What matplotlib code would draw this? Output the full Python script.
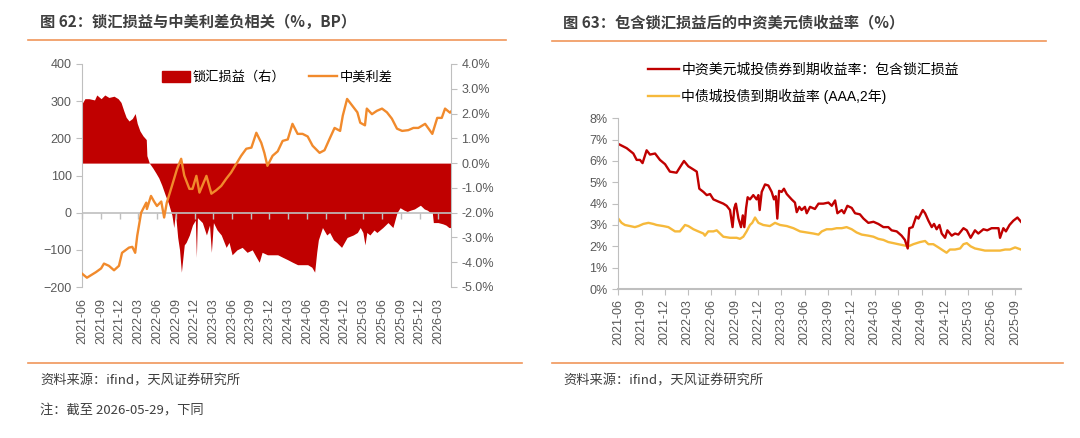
import pandas as pd
import matplotlib
matplotlib.use("Agg")
import matplotlib.pyplot as plt
from matplotlib.patches import Patch
from matplotlib.lines import Line2D
from matplotlib.ticker import FuncFormatter

# ============================================================
# DATA
# ============================================================

# Fig 62: 中美利差 (BP, left axis)
spread_dates = [
    "2021-06-01", "2021-06-25", "2021-08-08", "2021-09-02", "2021-09-16", "2021-10-10", "2021-11-04", "2021-11-28", "2021-12-13", "2022-01-16",
    "2022-02-01", "2022-02-15", "2022-02-25", "2022-03-16", "2022-04-10", "2022-04-13", "2022-05-03", "2022-05-18", "2022-06-01", "2022-06-22",
    "2022-07-06", "2022-07-19", "2022-08-13", "2022-09-07", "2022-09-27", "2022-10-12", "2022-11-06", "2022-11-21", "2022-12-10", "2022-12-25",
    "2023-01-28", "2023-02-21", "2023-03-16", "2023-04-10", "2023-05-04", "2023-05-28", "2023-06-22", "2023-07-16", "2023-08-10", "2023-09-04",
    "2023-09-28", "2023-10-22", "2023-11-06", "2023-11-21", "2023-12-16", "2024-01-10", "2024-02-03", "2024-02-28", "2024-03-22", "2024-04-16",
    "2024-05-10", "2024-06-04", "2024-06-28", "2024-08-01", "2024-08-25", "2024-09-19", "2024-10-13", "2024-11-09", "2024-11-22", "2024-12-13",
    "2025-01-07", "2025-02-01", "2025-02-15", "2025-03-10", "2025-03-19", "2025-04-13", "2025-05-07", "2025-06-01", "2025-06-25", "2025-07-19",
    "2025-08-13", "2025-09-07", "2025-10-07", "2025-11-01", "2025-11-25", "2025-12-28", "2026-02-01", "2026-02-25", "2026-03-19", "2026-04-04",
    "2026-04-28", "2026-05-03",
]
spread_vals = [
    -164, -175, -160, -150, -137, -143, -155, -143, -108, -94,
    -92, -108, -62, 0, 27, 10, 45, 30, 18, 30,
    -13, 27, 72, 118, 145, 100, 64, 64, 99, 54,
    99, 51, 60, 72, 91, 108, 131, 153, 172, 175,
    215, 188, 161, 126, 153, 165, 193, 197, 239, 212,
    212, 205, 180, 161, 168, 199, 228, 220, 261, 306,
    288, 270, 242, 235, 280, 265, 274, 280, 270, 253,
    226, 220, 222, 228, 228, 239, 212, 255, 255, 280,
    269, 272,
]

# Fig 62: 锁汇损益 (%, right axis)
lock_dates = [
    "2021-06-01", "2021-06-15", "2021-07-05", "2021-08-01", "2021-08-12", "2021-09-02", "2021-09-20", "2021-10-10", "2021-11-04", "2021-11-24",
    "2021-12-08", "2021-12-22", "2022-01-02", "2022-01-16", "2022-02-01", "2022-02-15", "2022-02-25", "2022-03-10", "2022-03-25", "2022-04-10",
    "2022-04-13", "2022-04-25", "2022-05-12", "2022-05-27", "2022-06-10", "2022-06-25", "2022-07-12", "2022-07-26", "2022-08-13", "2022-08-22",
    "2022-08-30", "2022-09-10", "2022-09-19", "2022-09-28", "2022-10-12", "2022-10-21", "2022-11-06", "2022-11-21", "2022-12-05", "2022-12-10",
    "2022-12-15", "2023-01-08", "2023-01-28", "2023-02-12", "2023-02-21", "2023-03-03", "2023-03-21", "2023-04-10", "2023-05-04", "2023-05-18",
    "2023-06-02", "2023-06-26", "2023-07-21", "2023-08-14", "2023-09-08", "2023-09-28", "2023-10-12", "2023-10-26", "2023-11-21", "2023-12-16",
    "2024-01-10", "2024-02-03", "2024-02-28", "2024-03-22", "2024-04-16", "2024-05-10", "2024-06-04", "2024-06-24", "2024-07-08", "2024-07-18",
    "2024-07-26", "2024-08-15", "2024-09-05", "2024-09-19", "2024-10-08", "2024-10-23", "2024-11-16", "2024-12-13", "2025-01-12", "2025-02-01",
    "2025-02-15", "2025-02-28", "2025-03-10", "2025-03-19", "2025-04-03", "2025-04-23", "2025-05-07", "2025-06-05", "2025-06-30", "2025-07-24",
    "2025-08-13", "2025-08-28", "2025-09-17", "2025-10-02", "2025-10-17", "2025-11-06", "2025-11-25", "2025-12-05", "2025-12-24", "2026-01-08",
    "2026-01-23", "2026-02-01", "2026-02-06", "2026-03-01", "2026-03-24", "2026-04-08", "2026-04-23", "2026-05-03",
]
lock_vals = [
    2.4, 2.6, 2.6, 2.55, 2.75, 2.6, 2.75, 2.65, 2.7, 2.6,
    2.45, 2.1, 1.85, 1.7, 1.8, 2.0, 1.6, 1.3, 1.1, 0.95,
    0.3, 0.0, -0.2, -0.4, -0.6, -0.9, -1.3, -1.6, -2.1, -2.6,
    -2.0, -3.0, -3.5, -4.4, -3.3, -3.2, -2.9, -2.5, -2.3, -3.8,
    -2.2, -2.4, -2.9, -2.5, -3.6, -2.4, -2.7, -2.9, -3.4, -3.2,
    -3.7, -3.5, -3.4, -3.6, -3.5, -3.8, -4.0, -3.6, -3.7, -3.7,
    -3.7, -3.8, -3.9, -4.0, -4.1, -4.1, -4.1, -4.2, -4.4, -3.6,
    -3.1, -2.6, -2.9, -2.8, -3.1, -3.2, -3.4, -3.0, -2.9, -2.8,
    -2.6, -2.8, -3.3, -2.8, -2.9, -2.7, -2.8, -2.6, -2.4, -2.6,
    -2.0, -1.8, -1.9, -1.95, -1.9, -1.85, -1.75, -1.7, -1.85, -1.9,
    -2.0, -2.0, -2.4, -2.4, -2.45, -2.5, -2.6, -2.6,
]

# Fig 63: 中资美元城投债券到期收益率：包含锁汇损益 (%)
usd_dates = [
    "2021-06-02", "2021-07-05", "2021-07-31", "2021-08-13", "2021-08-26", "2021-09-05", "2021-09-21", "2021-10-04", "2021-10-24", "2021-11-12",
    "2021-12-02", "2021-12-21", "2022-01-16", "2022-01-29", "2022-02-14", "2022-03-03", "2022-03-23", "2022-04-05", "2022-04-15", "2022-05-01",
    "2022-05-14", "2022-05-27", "2022-06-09", "2022-06-28", "2022-07-18", "2022-07-31", "2022-08-13", "2022-08-23", "2022-08-30", "2022-09-05",
    "2022-09-15", "2022-09-25", "2022-10-02", "2022-10-08", "2022-10-15", "2022-10-21", "2022-10-30", "2022-11-12", "2022-11-25", "2022-12-02",
    "2022-12-07", "2022-12-15", "2022-12-28", "2023-01-10", "2023-01-23", "2023-02-01", "2023-02-08", "2023-02-14", "2023-02-21", "2023-03-03",
    "2023-03-12", "2023-03-23", "2023-04-11", "2023-04-24", "2023-05-01", "2023-05-11", "2023-05-20", "2023-06-02", "2023-06-09", "2023-06-22",
    "2023-07-11", "2023-07-25", "2023-08-13", "2023-09-02", "2023-09-15", "2023-09-28", "2023-10-07", "2023-10-24", "2023-11-02", "2023-11-15",
    "2023-12-02", "2023-12-15", "2024-01-03", "2024-01-17", "2024-02-05", "2024-02-25", "2024-03-15", "2024-04-04", "2024-04-23", "2024-05-06",
    "2024-05-26", "2024-06-14", "2024-06-27", "2024-07-08", "2024-07-14", "2024-07-27", "2024-08-10", "2024-08-19", "2024-09-05", "2024-09-14",
    "2024-09-27", "2024-10-10", "2024-10-19", "2024-10-29", "2024-11-09", "2024-11-18", "2024-12-01", "2024-12-10", "2024-12-27", "2025-01-09",
    "2025-01-22", "2025-02-11", "2025-02-24", "2025-03-11", "2025-03-28", "2025-04-10", "2025-04-30", "2025-05-15", "2025-06-01", "2025-06-28",
    "2025-07-04", "2025-07-17", "2025-07-27", "2025-08-10", "2025-08-25", "2025-09-10", "2025-09-24",
]
usd_vals = [
    6.8, 6.6, 6.35, 6.05, 6.05, 5.9, 6.5, 6.3, 6.35, 6.05,
    5.85, 5.5, 5.45, 5.7, 6.0, 5.75, 5.6, 5.5, 4.7, 4.55,
    4.4, 4.45, 4.2, 4.1, 4.0, 3.9, 3.7, 2.9, 3.8, 4.0,
    3.3, 2.9, 3.45, 2.9, 3.8, 4.3, 4.2, 4.4, 4.2, 4.4,
    3.7, 4.55, 4.9, 4.85, 4.55, 4.2, 4.35, 3.3, 4.6, 4.55,
    4.7, 4.45, 4.2, 4.05, 3.6, 3.85, 3.7, 3.85, 3.55, 3.85,
    3.75, 4.0, 4.0, 4.05, 3.9, 4.15, 3.55, 3.7, 3.55, 3.9,
    3.8, 3.55, 3.5, 3.3, 3.1, 3.15, 3.05, 2.9, 2.9, 2.75,
    2.7, 2.5, 2.3, 1.9, 2.85, 2.9, 3.4, 3.3, 3.7, 3.55,
    3.2, 2.9, 3.05, 2.8, 3.0, 2.6, 2.4, 2.75, 2.5, 2.6,
    2.55, 2.85, 2.75, 2.4, 2.75, 2.6, 2.8, 2.75, 2.85, 2.85,
    2.4, 2.85, 2.7, 3.0, 3.2, 3.35, 3.15,
]

# Fig 63: 中债城投债到期收益率 (AAA,2年) (%)
aaa_dates = [
    "2021-06-02", "2021-06-15", "2021-06-28", "2021-07-18", "2021-08-06", "2021-08-20", "2021-09-08", "2021-09-28", "2021-10-17", "2021-10-30",
    "2021-11-25", "2021-12-15", "2021-12-28", "2022-01-10", "2022-01-29", "2022-02-18", "2022-03-03", "2022-03-23", "2022-04-11", "2022-05-01",
    "2022-05-07", "2022-05-20", "2022-06-09", "2022-06-22", "2022-07-05", "2022-07-18", "2022-08-13", "2022-09-08", "2022-09-21", "2022-10-04",
    "2022-10-17", "2022-10-30", "2022-11-08", "2022-11-19", "2022-12-02", "2022-12-21", "2023-01-16", "2023-02-05", "2023-02-25", "2023-03-23",
    "2023-04-18", "2023-05-14", "2023-06-09", "2023-07-05", "2023-07-25", "2023-08-07", "2023-08-26", "2023-09-15", "2023-10-04", "2023-10-24",
    "2023-11-12", "2023-12-02", "2023-12-21", "2024-01-10", "2024-02-05", "2024-02-25", "2024-03-15", "2024-04-04", "2024-04-23", "2024-05-13",
    "2024-06-01", "2024-06-21", "2024-07-11", "2024-07-30", "2024-08-25", "2024-09-14", "2024-09-27", "2024-10-16", "2024-11-05", "2024-11-24",
    "2024-12-07", "2024-12-20", "2025-01-09", "2025-01-29", "2025-02-11", "2025-02-24", "2025-03-11", "2025-03-28", "2025-04-17", "2025-05-06",
    "2025-05-26", "2025-06-14", "2025-07-04", "2025-07-24", "2025-08-12", "2025-09-01", "2025-09-24",
]
aaa_vals = [
    3.3, 3.1, 3.0, 2.95, 2.9, 2.95, 3.05, 3.1, 3.05, 3.0,
    2.95, 2.9, 2.8, 2.7, 2.7, 3.0, 2.95, 2.8, 2.7, 2.6,
    2.5, 2.7, 2.7, 2.75, 2.6, 2.45, 2.4, 2.4, 2.35, 2.45,
    2.7, 3.0, 3.1, 3.35, 3.1, 3.0, 2.95, 3.1, 3.0, 2.95,
    2.85, 2.7, 2.65, 2.6, 2.55, 2.7, 2.8, 2.8, 2.85, 2.85,
    2.9, 2.8, 2.65, 2.55, 2.5, 2.45, 2.35, 2.3, 2.2, 2.15,
    2.1, 2.05, 2.0, 2.1, 2.2, 2.25, 2.1, 2.1, 1.95, 1.8,
    1.7, 1.85, 1.85, 1.9, 2.1, 2.15, 2.0, 1.9, 1.85, 1.8,
    1.8, 1.8, 1.8, 1.85, 1.85, 1.95, 1.85,
]

# ============================================================
# STYLE
# ============================================================

RED = "#C00000"
ORANGE = "#F18A2C"
YELLOW = "#F6B93B"
GRAY = "#BFBFBF"
TXT = "#595959"
HEAD = "#3F3F3F"
RULE = "#F0965A"
CJK = ["Noto Sans CJK SC", "DejaVu Sans"]

plt.rcParams["font.family"] = ["Liberation Sans", "Noto Sans CJK SC"]

W, H = 1080, 438
fig = plt.figure(figsize=(W / 100, H / 100), dpi=100)


def box(x0, y0, x1, y1):
    # pixel box (top-left origin) -> figure fraction rect
    return [x0 / W, 1 - y1 / H, (x1 - x0) / W, (y1 - y0) / H]


def hrule(x0, x1, y):
    fig.add_artist(Line2D([x0 / W, x1 / W], [1 - y / H, 1 - y / H],
                          transform=fig.transFigure, color=RULE, lw=1.2))


# ============================================================
# FIG 62
# ============================================================

sd = pd.to_datetime(spread_dates)
ld = pd.to_datetime(lock_dates)
left_ticks = pd.date_range("2021-06-01", "2026-03-01", freq="3MS")

ax = fig.add_axes(box(82, 64, 451, 287))
ax2 = ax.twinx()

ax2.fill_between(ld, 0, lock_vals, color=RED, linewidth=0)
ax2.set_ylim(-5, 4)
ax2.set_yticks(range(-5, 5))
ax2.yaxis.set_major_formatter(FuncFormatter(lambda v, p: f"{v:.1f}%"))

ax.set_zorder(ax2.get_zorder() + 1)
ax.patch.set_visible(False)
ax.axhline(0, color=GRAY, lw=1.2, zorder=2)
ax.plot(left_ticks, [0] * len(left_ticks), ls="none", marker=3, ms=4,
        mew=1, color=GRAY, clip_on=False, zorder=2)
ax.plot(sd, spread_vals, color=ORANGE, lw=1.7, zorder=3)
ax.set_ylim(-200, 400)
ax.set_yticks(range(-200, 401, 100))
ax.set_xlim(pd.Timestamp("2021-06-01"), pd.Timestamp("2026-05-03"))
ax.set_xticks(left_ticks)
ax.set_xticklabels(left_ticks.strftime("%Y-%m"), rotation=90)

for a in (ax, ax2):
    for s in ("top", "bottom"):
        a.spines[s].set_visible(False)
ax.spines["right"].set_visible(False)
ax2.spines["left"].set_visible(False)
ax.spines["left"].set_color(GRAY)
ax2.spines["right"].set_color(GRAY)
ax.tick_params(axis="x", length=0, pad=8, labelsize=9, labelcolor=TXT)
ax.tick_params(axis="y", length=4, color=GRAY, labelsize=9, labelcolor=TXT)
ax2.tick_params(axis="y", length=4, color=GRAY, labelsize=9, labelcolor=TXT)

ax.legend(handles=[Patch(facecolor=RED, edgecolor=RED), Line2D([], [], color=ORANGE, lw=1.7)],
          labels=["锁汇损益（右）", "中美利差"], loc="center", bbox_to_anchor=(0.53, 0.94),
          ncol=2, frameon=False, prop={"family": CJK, "size": 9.5},
          handlelength=2.1, handleheight=0.9, handletextpad=0.2, columnspacing=1.8)

# ============================================================
# FIG 63
# ============================================================

ud = pd.to_datetime(usd_dates)
ad = pd.to_datetime(aaa_dates)
right_ticks = pd.date_range("2021-06-01", "2025-09-01", freq="3MS")

bx = fig.add_axes(box(618, 118.3, 1021, 289))
bx.plot(ad, aaa_vals, color=YELLOW, lw=1.7)
bx.plot(ud, usd_vals, color=RED, lw=1.7)
bx.set_ylim(0, 8)
bx.set_yticks(range(0, 9))
bx.yaxis.set_major_formatter(FuncFormatter(lambda v, p: f"{v:.0f}%"))
bx.set_xlim(pd.Timestamp("2021-06-01"), pd.Timestamp("2025-09-24"))
bx.set_xticks(right_ticks)
bx.set_xticklabels(right_ticks.strftime("%Y-%m"), rotation=90)
bx.spines["top"].set_visible(False)
bx.spines["right"].set_visible(False)
bx.spines["left"].set_color(GRAY)
bx.spines["bottom"].set_color(GRAY)
bx.spines["bottom"].set_linewidth(1.5)
bx.tick_params(axis="both", length=4, color=GRAY, labelsize=9, labelcolor=TXT)

fig.legend(handles=[Line2D([], [], color=RED, lw=1.7), Line2D([], [], color=YELLOW, lw=1.7)],
           labels=["中资美元城投债券到期收益率：包含锁汇损益", "中债城投债到期收益率 (AAA,2年)"],
           loc="upper left", bbox_to_anchor=(648 / W, 1 - 63 / H), frameon=False,
           prop={"size": 10}, handlelength=2.2, handletextpad=0.2,
           labelspacing=0.85, borderpad=0, borderaxespad=0)

# ============================================================
# TITLES, RULES, NOTES
# ============================================================

fig.text(40 / W, 1 - 22 / H, "图 62：锁汇损益与中美利差负相关（%，BP）", family=CJK,
         weight="bold", size=11, color=HEAD, va="center")
fig.text(563 / W, 1 - 22 / H, "图 63：包含锁汇损益后的中资美元债收益率（%）", family=CJK,
         weight="bold", size=11, color=HEAD, va="center")

hrule(28, 506, 40)
hrule(552, 1046, 40.5)
hrule(28, 522, 362.5)
hrule(552, 1063, 362.5)

fig.text(40 / W, 1 - 381 / H, "资料来源：ifind，天风证券研究所", family=CJK,
         size=9.5, color=HEAD, va="center")
fig.text(563 / W, 1 - 381 / H, "资料来源：ifind，天风证券研究所", family=CJK,
         size=9.5, color=HEAD, va="center")
fig.text(40 / W, 1 - 411 / H, "注：截至 2026-05-29，下同", family=CJK,
         size=9.5, color=HEAD, va="center")

fig.savefig("out.png", dpi=100)
plt.close(fig)
